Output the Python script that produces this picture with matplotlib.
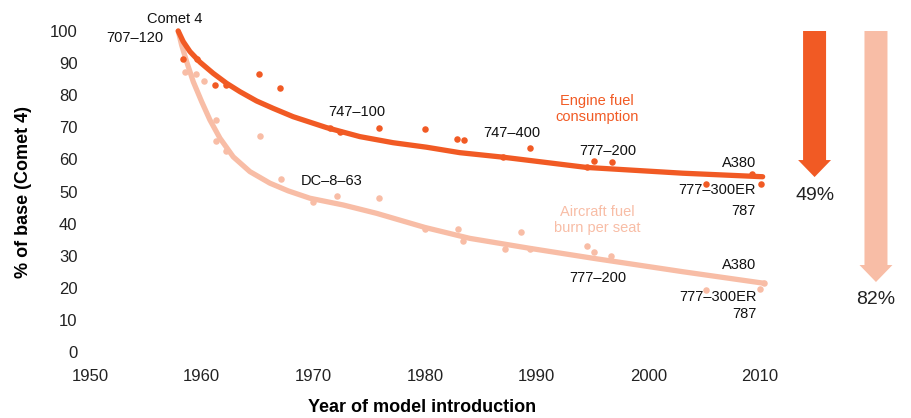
import matplotlib
matplotlib.use("Agg")
import matplotlib.pyplot as plt

plt.rcParams['font.family'] = ['Liberation Sans', 'DejaVu Sans']

DARK = '#F15A24'
LIGHT = '#F8BDA6'

# Engine fuel consumption: scatter points (year, % of Comet 4)
engine_x = [1958.3, 1959.6, 1961.2, 1962.2, 1965.1, 1967.0, 1971.5, 1972.4, 1975.9,
            1980.0, 1982.9, 1983.5, 1987.0, 1989.4, 1994.5, 1995.1, 1996.8, 2005.2,
            2009.3, 2010.1]
engine_y = [91.3, 91.3, 83.2, 83.2, 86.6, 82.2, 69.8, 68.6, 69.8,
            69.5, 66.4, 66.0, 60.8, 63.6, 57.5, 59.6, 59.1, 52.4,
            55.3, 52.3]

# Aircraft fuel burn per seat: scatter points
seat_x = [1958.5, 1959.5, 1960.2, 1961.3, 1961.3, 1962.2, 1965.2, 1967.1, 1970.0,
          1972.1, 1975.9, 1980.0, 1983.0, 1983.4, 1987.2, 1988.6, 1989.4, 1994.5,
          1995.1, 1996.7, 2005.2, 2010.0, 2010.4]
seat_y = [87.3, 86.6, 84.4, 72.3, 65.6, 62.7, 67.4, 53.9, 46.8,
          48.5, 48.0, 38.4, 38.4, 34.6, 32.0, 37.5, 32.0, 32.9,
          31.2, 29.8, 19.2, 19.7, 21.4]

# Trend curves
engine_curve_x = [1957.9, 1958.35, 1958.95, 1959.85, 1961.04, 1962.24, 1963.43, 1964.92,
                  1966.41, 1968.2, 1971.19, 1974.17, 1977.15, 1980.14, 1983.12, 1986.97,
                  1994.47, 2003.09, 2010.25]
engine_curve_y = [100.0, 96.7, 93.6, 90.3, 86.8, 83.7, 81.1, 78.2,
                  75.9, 73.3, 69.9, 67.1, 65.2, 63.8, 62.1, 60.7,
                  57.5, 55.7, 54.6]

seat_curve_x = [1957.9, 1958.21, 1958.66, 1959.25, 1960.0, 1960.74, 1961.64, 1962.83,
                1964.32, 1966.11, 1967.75, 1969.7, 1972.68, 1975.67, 1980.0, 1984.02,
                1989.39, 1995.06, 2003.12, 2010.4]
seat_curve_y = [100.0, 95.6, 90.4, 84.2, 78.0, 72.3, 66.6, 60.8,
                56.2, 52.6, 50.2, 47.9, 45.8, 43.2, 38.8, 35.4,
                32.3, 29.2, 25.0, 21.4]

# Reduction arrows
engine_drop_end = 54.5
seat_drop_end = 21.8
engine_drop_label = '49%'
seat_drop_label = '82%'

x_ticks = [1950, 1960, 1970, 1980, 1990, 2000, 2010]
y_ticks = [0, 10, 20, 30, 40, 50, 60, 70, 80, 90, 100]

fig = plt.figure(figsize=(9.11, 4.18), dpi=100)
W, H = 911, 418
ax = fig.add_axes([90 / W, (H - 352) / H, 815 / W, 321 / H])
ax.set_xlim(1950, 2023)
ax.set_ylim(0, 100)
for s in ax.spines.values():
    s.set_visible(False)

ax.plot(seat_curve_x, seat_curve_y, color=LIGHT, lw=3.8, solid_capstyle='round',
        solid_joinstyle='round', clip_on=False, zorder=2)
ax.plot(engine_curve_x, engine_curve_y, color=DARK, lw=3.8, solid_capstyle='round',
        solid_joinstyle='round', clip_on=False, zorder=3)
ax.scatter(seat_x, seat_y, s=22, color=LIGHT, linewidths=0, clip_on=False, zorder=2)
ax.scatter(engine_x, engine_y, s=22, color=DARK, linewidths=0, clip_on=False, zorder=3)

ax.set_xticks(x_ticks)
ax.set_yticks(y_ticks)
ax.tick_params(axis='both', length=0, labelsize=12, colors='#222222')
ax.tick_params(axis='y', pad=9)
ax.tick_params(axis='x', pad=12)

ax.set_xlabel('Year of model introduction', fontsize=13, fontweight='bold')
ax.xaxis.set_label_coords(0.408, -0.145)
ax.set_ylabel('% of base (Comet 4)', fontsize=13, fontweight='bold')
ax.yaxis.set_label_coords(-0.071, 0.5)

# Arrows
ax.arrow(2014.9, 100, 0, engine_drop_end - 100, width=2.06, head_width=2.95,
         head_length=5.3, length_includes_head=True, color=DARK, lw=0, clip_on=False)
ax.arrow(2020.4, 100, 0, seat_drop_end - 100, width=2.06, head_width=2.95,
         head_length=5.3, length_includes_head=True, color=LIGHT, lw=0, clip_on=False)
ax.text(2014.9, 48.6, engine_drop_label, fontsize=14, ha='center', va='center', color='#222222')
ax.text(2020.4, 16.2, seat_drop_label, fontsize=14, ha='center', va='center', color='#222222')

fs = 10.5
tc = '#111111'
ax.text(1957.6, 103.6, 'Comet 4', fontsize=fs, ha='center', va='center', color=tc, clip_on=False)
ax.text(1956.6, 97.8, '707–120', fontsize=fs, ha='right', va='center', color=tc)
ax.text(1971.3, 74.8, '747–100', fontsize=fs, ha='left', va='center', color=tc)
ax.text(1987.8, 68.2, '747–400', fontsize=fs, ha='center', va='center', color=tc)
ax.text(1996.4, 62.5, '777–200', fontsize=fs, ha='center', va='center', color=tc)
ax.text(2009.7, 58.9, 'A380', fontsize=fs, ha='right', va='center', color=tc)
ax.text(2009.6, 50.5, '777–300ER', fontsize=fs, ha='right', va='center', color=tc)
ax.text(2009.6, 43.9, '787', fontsize=fs, ha='right', va='center', color=tc)
ax.text(1995.4, 75.7, 'Engine fuel\nconsumption', fontsize=fs, ha='center', va='center',
        color=DARK, linespacing=1.15)
ax.text(1995.4, 41.1, 'Aircraft fuel\nburn per seat', fontsize=fs, ha='center', va='center',
        color=LIGHT, linespacing=1.15)
ax.text(1971.6, 53.3, 'DC–8–63', fontsize=fs, ha='center', va='center', color=tc)
ax.text(1995.5, 22.9, '777–200', fontsize=fs, ha='center', va='center', color=tc)
ax.text(2009.7, 27.1, 'A380', fontsize=fs, ha='right', va='center', color=tc)
ax.text(2009.7, 17.0, '777–300ER', fontsize=fs, ha='right', va='center', color=tc)
ax.text(2009.7, 11.7, '787', fontsize=fs, ha='right', va='center', color=tc)

fig.savefig('out.png', dpi=100)
